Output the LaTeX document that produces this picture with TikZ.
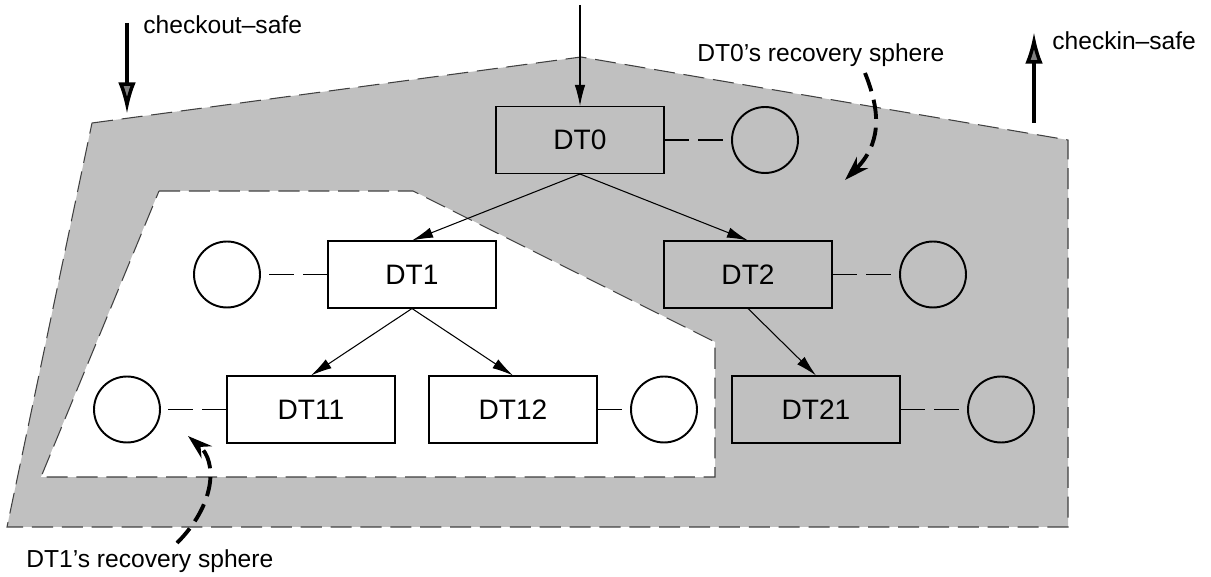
\documentclass[tikz,border=0pt]{standalone}
\usepackage{fontspec}
\setmainfont{Liberation Sans}
\usetikzlibrary{arrows.meta}
\definecolor{spheregray}{RGB}{192,192,192}
\tikzset{
  dtbox/.style={draw, line width=0.6pt, minimum width=3.36cm, minimum height=1.34cm,
    inner sep=0pt, font=\fontsize{16}{19}\selectfont},
  logcirc/.style={draw, circle, line width=1.1pt, minimum size=1.32cm, inner sep=0pt},
  logline/.style={line width=0.6pt, dash pattern=on 14.2pt off 5.1pt},
  treearrow/.style={-{Latex[length=12pt,width=6pt]}, line width=0.6pt},
  border/.style={line width=0.6pt, draw=black!75, dash pattern=on 12pt off 5pt},
  safearrow/.style={line width=2.3pt, -{Latex[length=18pt,width=10pt,fill=black!50,line width=2pt]}},
  spherearrow/.style={line width=2.2pt, dash pattern=on 11pt off 5pt, -{Stealth[length=14pt,width=9pt]}},
  lbl/.style={font=\fontsize{14}{17}\selectfont, anchor=base west, inner sep=0pt},
}
\begin{document}
\begin{tikzpicture}[x=0.02cm, y=-0.02cm]
  \useasboundingbox (0,0) rectangle (1211,577);
  % recovery spheres
  \fill[spheregray] (92,123) -- (581,57) -- (1068,140) -- (1068,527) -- (7,527) -- cycle;
  \draw[border] (92,123) -- (581,57) -- (1068,140) -- (1068,527) -- (7,527) -- cycle;
  \filldraw[fill=white, border] (159,191) -- (413,191) -- (715,342) -- (715,477) -- (41,477) -- cycle;

  % transactions
  \node[dtbox] (dt0)  at (580,140)   {DT0};
  \node[dtbox] (dt1)  at (412,274.5) {DT1};
  \node[dtbox] (dt2)  at (748,274.5) {DT2};
  \node[dtbox] (dt11) at (311,409.5) {DT11};
  \node[dtbox] (dt12) at (513,409.5) {DT12};
  \node[dtbox] (dt21) at (816,409.5) {DT21};

  % logs
  \node[logcirc] (c0)  at (765,140)    {};
  \node[logcirc] (c1)  at (227,274.5)  {};
  \node[logcirc] (c2)  at (933,274.5)  {};
  \node[logcirc] (c11) at (127,409.5)  {};
  \node[logcirc] (c12) at (664,409.5)  {};
  \node[logcirc] (c21) at (1001,409.5) {};

  \draw[logline] (dt0.east)  -- (c0.west);
  \draw[logline] (dt1.west)  -- (c1.east);
  \draw[logline] (dt2.east)  -- (c2.west);
  \draw[logline] (dt11.west) -- (c11.east);
  \draw[logline] (dt12.east) -- (c12.west);
  \draw[logline] (dt21.east) -- (c21.west);

  \coordinate (in0) at (580,5);
  \draw[treearrow] (in0) -- (dt0.north);
  \draw[treearrow] (dt0.south) -- (dt1.north);
  \draw[treearrow] (dt0.south) -- (dt2.north);
  \draw[treearrow] (dt1.south) -- (dt11.north);
  \draw[treearrow] (dt1.south) -- (dt12.north);
  \draw[treearrow] (dt2.south) -- (dt21.north);

  % safe directions
  \node[lbl] (colbl) at (143,34) {checkout--safe};
  \node[lbl] (cilbl) at (1052,50) {checkin--safe};
  \coordinate (coa) at (127,23);
  \coordinate (cob) at (127,114);
  \coordinate (cia) at (1034,123);
  \coordinate (cib) at (1034,32);
  \draw[safearrow] (coa) -- (cob);
  \draw[safearrow] (cia) -- (cib);

  % sphere labels
  \node[lbl] (s0lbl) at (697,62)  {DT0's recovery sphere};
  \node[lbl] (s1lbl) at (26,567)  {DT1's recovery sphere};
  \coordinate (s0a) at (865,73);
  \coordinate (s0b) at (845,180);
  \coordinate (s1a) at (177,543);
  \coordinate (s1b) at (188,436);
  \draw[spherearrow] (s0a) .. controls (882,115) and (880,145) .. (s0b);
  \draw[spherearrow] (s1a) .. controls (215,505) and (218,462) .. (s1b);
\end{tikzpicture}
\end{document}
